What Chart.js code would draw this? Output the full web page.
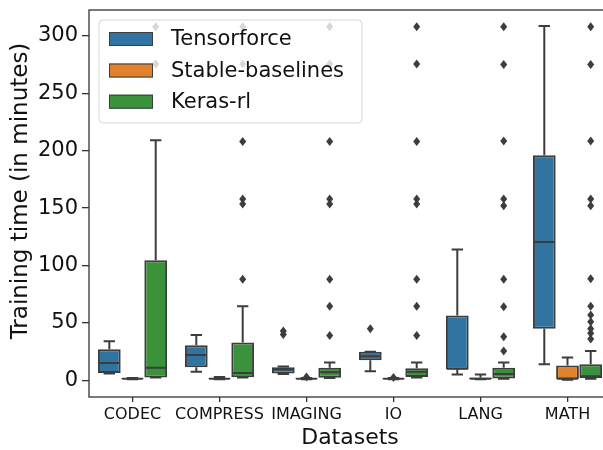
<!DOCTYPE html>
<html>
<head>
<meta charset="utf-8">
<script src="https://cdn.jsdelivr.net/npm/chart.js@4.4.0/dist/chart.umd.min.js"></script>
<style>
  html, body { margin: 0; padding: 0; overflow: hidden; background: #fff; }
  #wrap { position: relative; width: 620px; height: 450px; }
</style>
</head>
<body>
<div id="wrap"><canvas id="c"></canvas></div>
<script>
// Training-time distributions per benchmark dataset and RL library.
const categories = ['CODEC', 'COMPRESS', 'IMAGING', 'IO', 'LANG', 'MATH'];
const seriesNames = ['Tensorforce', 'Stable-baselines', 'Keras-rl'];
const seriesColors = ['#3274a1', '#e1812c', '#3a923a'];
const yTicks = [0, 50, 100, 150, 200, 250, 300];

// Five-number summaries: [low whisker, Q1, median, Q3, high whisker]
const tensorforce = [
  [6, 6.5, 15, 27, 34],
  [7.5, 11.5, 22, 30.5, 39.5],
  [5.5, 6, 9.5, 11.5, 12],
  [8, 17.5, 21, 25, 25],
  [5, 9.5, 10, 56.5, 114],
  [14, 45, 120.5, 196, 308.5]
];
const stableBaselines = [
  [1, 1.2, 1.5, 1.8, 2],
  [1, 1.2, 1.5, 1.8, 3],
  [1, 1.2, 1.5, 1.8, 2],
  [1, 1.2, 1.5, 1.8, 2],
  [1, 1, 1.5, 2.5, 5],
  [0.5, 1, 1.5, 13, 20]
];
const kerasRl = [
  [2.5, 2.5, 11, 104.5, 209],
  [2.5, 2.7, 6.5, 33, 64.5],
  [2, 2.2, 7, 11, 15.5],
  [2.5, 3, 7.5, 10.5, 15.5],
  [1.5, 1.6, 5.5, 11, 15.5],
  [1.5, 2, 3.5, 14, 25.5]
];

// Fliers beyond the whiskers
const tensorforceOutliers = [[], [], [40, 43], [45], [], []];
const stableBaselinesOutliers = [[], [], [3], [2.5], [], []];
const kerasRlOutliers = [
  [275.5, 308],
  [88, 153.5, 158, 208, 275.5, 308],
  [39, 64.5, 88, 153.5, 158, 208, 275.5, 308],
  [39, 64.5, 88, 153.5, 158, 208, 275.5, 308],
  [25.5, 38, 64, 88, 152, 158, 208.5, 275, 308],
  [36, 41, 45, 51, 57, 64.5, 88.5, 152, 158, 208.5, 275, 308]
];

const summaries = [tensorforce, stableBaselines, kerasRl];
const outliers = [tensorforceOutliers, stableBaselinesOutliers, kerasRlOutliers];

const FONT = "'DejaVu Sans', sans-serif";
const LINE = '#3d3d3d';
const SPINE = '#333333';
const TEXT = '#111111';

// Whiskers, caps, medians and fliers drawn on top of the box bars
const boxDetails = {
  id: 'boxDetails',
  afterDatasetsDraw(chart) {
    const ctx = chart.ctx;
    const y = chart.scales.y;
    ctx.save();
    ctx.strokeStyle = LINE;
    ctx.fillStyle = LINE;
    ctx.lineWidth = 2;
    summaries.forEach((rows, s) => {
      const meta = chart.getDatasetMeta(s);
      rows.forEach((r, i) => {
        const bar = meta.data[i];
        const x = bar.x, w = bar.width;
        const [lo, q1, med, q3, hi] = r.map(v => y.getPixelForValue(v));
        ctx.beginPath();
        ctx.moveTo(x, q3); ctx.lineTo(x, hi);
        ctx.moveTo(x, q1); ctx.lineTo(x, lo);
        ctx.moveTo(x - w / 4, hi); ctx.lineTo(x + w / 4, hi);
        ctx.moveTo(x - w / 4, lo); ctx.lineTo(x + w / 4, lo);
        ctx.moveTo(x - w / 2 + 1, med); ctx.lineTo(x + w / 2 - 1, med);
        ctx.stroke();
        outliers[s][i].forEach(v => {
          const py = y.getPixelForValue(v);
          ctx.beginPath();
          ctx.moveTo(x, py - 4.5);
          ctx.lineTo(x + 3.5, py);
          ctx.lineTo(x, py + 4.5);
          ctx.lineTo(x - 3.5, py);
          ctx.closePath();
          ctx.fill();
        });
      });
    });
    ctx.restore();
  },
  afterDraw(chart) {
    const ctx = chart.ctx;
    const a = chart.chartArea;
    ctx.save();
    // axes frame
    ctx.strokeStyle = SPINE;
    ctx.lineWidth = 1.3;
    ctx.strokeRect(a.left, a.top, a.right - a.left, a.bottom - a.top);

    // legend box
    const lx = 99, ly = 20, lw = 263, lh = 103, rad = 4;
    ctx.beginPath();
    ctx.moveTo(lx + rad, ly);
    ctx.arcTo(lx + lw, ly, lx + lw, ly + lh, rad);
    ctx.arcTo(lx + lw, ly + lh, lx, ly + lh, rad);
    ctx.arcTo(lx, ly + lh, lx, ly, rad);
    ctx.arcTo(lx, ly, lx + lw, ly, rad);
    ctx.closePath();
    ctx.fillStyle = 'rgba(255,255,255,0.8)';
    ctx.fill();
    ctx.strokeStyle = 'rgba(204,204,204,0.8)';
    ctx.lineWidth = 1;
    ctx.stroke();
    const rowsY = [39, 70.5, 101.7];
    ctx.font = '21px ' + FONT;
    ctx.textBaseline = 'middle';
    ctx.textAlign = 'left';
    seriesNames.forEach((name, s) => {
      ctx.fillStyle = seriesColors[s];
      ctx.fillRect(109, rowsY[s] - 7, 44, 14);
      ctx.strokeStyle = LINE;
      ctx.lineWidth = 1;
      ctx.strokeRect(109.5, rowsY[s] - 6.5, 43, 13);
      ctx.fillStyle = TEXT;
      ctx.fillText(name, 171, rowsY[s] + 1);
    });

    // axis titles
    ctx.fillStyle = TEXT;
    ctx.font = '22px ' + FONT;
    ctx.textAlign = 'center';
    ctx.textBaseline = 'alphabetic';
    ctx.fillText('Datasets', (a.left + a.right) / 2, 444);
    ctx.translate(27, 191);
    ctx.rotate(-Math.PI / 2);
    ctx.font = '23px ' + FONT;
    ctx.fillText('Training time (in minutes)', 0, 0);
    ctx.restore();
  }
};

new Chart(document.getElementById('c'), {
  type: 'bar',
  data: {
    labels: categories,
    datasets: seriesNames.map((name, s) => ({
      label: name,
      data: summaries[s].map(r => [r[1], r[3]]),
      backgroundColor: seriesColors[s],
      borderColor: LINE,
      borderWidth: 2,
      borderSkipped: false,
      categoryPercentage: 0.8,
      barPercentage: 0.98
    }))
  },
  options: {
    responsive: true,
    maintainAspectRatio: false,
    animation: false,
    layout: { padding: { top: 10, right: 9, left: 0, bottom: 0 } },
    plugins: { legend: { display: false }, tooltip: { enabled: false } },
    scales: {
      x: {
        grid: { offset: false, drawOnChartArea: false, drawTicks: true, tickLength: 5, color: SPINE, lineWidth: 1.3 },
        border: { display: false },
        ticks: { color: TEXT, font: { family: FONT, size: 16 }, padding: 3, maxRotation: 0, autoSkip: false },
        afterFit(scale) { scale.height = 53; scale.paddingLeft = 0; scale.paddingRight = 0; }
      },
      y: {
        min: -14.5,
        max: 322.5,
        grid: { drawOnChartArea: false, drawTicks: true, tickLength: 7, color: SPINE, lineWidth: 1.3 },
        border: { display: false },
        ticks: { color: TEXT, font: { family: FONT, size: 21 }, padding: 4 },
        afterBuildTicks(scale) { scale.ticks = yTicks.map(v => ({ value: v })); },
        afterFit(scale) { scale.width = 89; scale.paddingTop = 0; scale.paddingBottom = 0; }
      }
    }
  },
  plugins: [boxDetails]
});
</script>
</body>
</html>
